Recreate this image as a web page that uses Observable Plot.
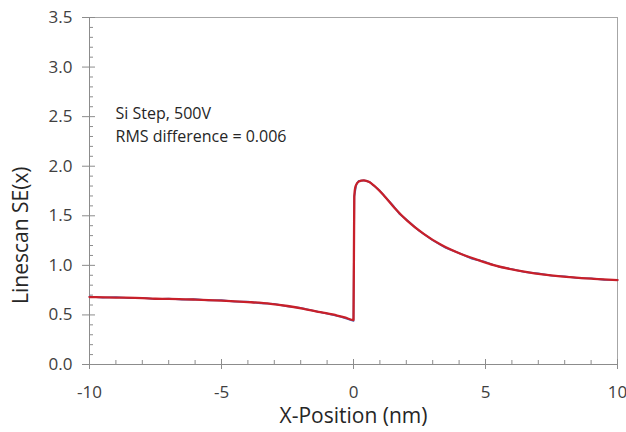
<!DOCTYPE html>
<html>
<head>
<meta charset="utf-8">
<script src="https://cdn.jsdelivr.net/npm/d3@7"></script>
<script src="https://cdn.jsdelivr.net/npm/@observablehq/plot@0.6"></script>
<style>
  html, body { margin: 0; padding: 0; background: #ffffff; }
</style>
</head>
<body>
<div id="chart"></div>
<script>
// ---- data ----
const xMajor = [-10, -5, 0, 5, 10];
const xMinor = [-9, -8, -7, -6, -4, -3, -2, -1, 1, 2, 3, 4, 6, 7, 8, 9];
const yMajor = [0, 0.5, 1.0, 1.5, 2.0, 2.5, 3.0, 3.5];
const yMinor = [0.1, 0.2, 0.3, 0.4, 0.6, 0.7, 0.8, 0.9, 1.1, 1.2, 1.3, 1.4, 1.6, 1.7, 1.8, 1.9,
                2.1, 2.2, 2.3, 2.4, 2.6, 2.7, 2.8, 2.9, 3.1, 3.2, 3.3, 3.4];

// measured linescan (blue, underneath)
const measuredX = [-10, -9.5, -9, -8.5, -8, -7.5, -7, -6.5, -6, -5.5, -5, -4.5, -4, -3.5, -3, -2.5, -2, -1.5, -1, -0.5, 0,
                   0.03, 0.1, 0.2, 0.4, 0.6, 0.8, 1.0, 1.25, 1.5, 1.75, 2.0, 2.5, 3.0, 3.5, 4.0, 4.5, 5.0, 5.5, 6.0, 6.5,
                   7.0, 7.5, 8.0, 8.5, 9.0, 9.5, 10];
const measuredY = [0.684, 0.674, 0.679, 0.669, 0.673, 0.660, 0.665, 0.655, 0.658, 0.647, 0.648, 0.635, 0.633, 0.617, 0.611,
                   0.587, 0.571, 0.540, 0.513, 0.483, 0.440,
                   1.690, 1.810, 1.853, 1.858, 1.843, 1.797, 1.752, 1.676, 1.603, 1.517, 1.463, 1.346, 1.254, 1.176, 1.124,
                   1.066, 1.034, 0.986, 0.963, 0.932, 0.918, 0.897, 0.888, 0.872, 0.869, 0.855, 0.853];

// model fit (red, on top)
const fitX = [-10, -9, -8, -7.5, -7, -6, -5, -4, -3.14, -2.5, -1.88, -1.25, -0.62, -0.3, 0,
              0.03, 0.08, 0.2, 0.39, 0.6, 0.77, 1.15, 1.53, 2.03, 2.66, 3.3, 4.05, 4.81, 5.31, 6.58, 7.84, 9.1, 10];
const fitY = [0.680, 0.675, 0.670, 0.663, 0.662, 0.655, 0.645, 0.630, 0.612, 0.590, 0.562, 0.528, 0.494, 0.472, 0.448,
              1.700, 1.800, 1.845, 1.858, 1.840, 1.806, 1.705, 1.587, 1.452, 1.318, 1.210, 1.117, 1.045, 1.002, 0.931,
              0.888, 0.864, 0.852];

const annotationLines = ["Si Step, 500V", "RMS difference = 0.006"];
const xTitle = "X-Position (nm)";
const yTitle = "Linescan SE(x)";

const measured = measuredX.map((x, i) => ({x, y: measuredY[i]}));
const fit = fitX.map((x, i) => ({x, y: fitY[i]}));

// ---- layout ----
const W = 626, H = 432;
const mL = 89, mR = 9, mT = 17, mB = 68;
const innerW = W - mL - mR, innerH = H - mT - mB;
const axisColor = "#8c8c8c";
const textColor = "#404040";

const chart = Plot.plot({
  width: W,
  height: H,
  marginLeft: mL,
  marginRight: mR,
  marginTop: mT,
  marginBottom: mB,
  style: {fontFamily: "'Open Sans', sans-serif", fontSize: "17px", color: textColor, background: "#ffffff"},
  x: {domain: [-10, 10]},
  y: {domain: [0, 3.5]},
  marks: [
    Plot.frame({stroke: "#a6a6a6", strokeWidth: 1}),
    // inward minor / major ticks
    Plot.tickX(xMinor, {x: d => d, insetTop: innerH - 4, stroke: axisColor}),
    Plot.tickX(xMajor, {x: d => d, insetTop: innerH - 5, stroke: axisColor}),
    Plot.tickY(yMinor, {y: d => d, insetRight: innerW - 4, stroke: axisColor}),
    Plot.tickY(yMajor, {y: d => d, insetRight: innerW - 6, stroke: axisColor}),
    Plot.axisX(xMajor, {tickSize: 5, tickPadding: 16, tickFormat: d => String(d), label: null,
                        stroke: axisColor, fill: textColor, fontSize: 17}),
    Plot.axisY(yMajor, {tickSize: 7, tickPadding: 10, tickFormat: d3.format(".1f"), label: null,
                        stroke: axisColor, fill: textColor, fontSize: 17}),
    Plot.ruleY([0], {stroke: axisColor}),
    Plot.ruleX([-10], {stroke: axisColor}),
    // data
    Plot.line(measured, {x: "x", y: "y", stroke: "#4a6fc0", strokeWidth: 1.8, curve: "linear"}),
    Plot.line(fit, {x: "x", y: "y", stroke: "#c8202a", strokeWidth: 2.3, curve: "monotone-x"}),
    // annotation
    Plot.text([annotationLines.join("\n")], {
      frameAnchor: "top-left", dx: 26, dy: 86, textAnchor: "start", lineAnchor: "top",
      lineHeight: 1.4, fontSize: 16, fill: "#262626"
    }),
    // axis titles
    Plot.text([xTitle], {frameAnchor: "bottom", dy: 58, lineAnchor: "bottom", fontSize: 21, fill: "#262626"}),
    Plot.text([yTitle], {frameAnchor: "left", dx: -68, dy: 113, rotate: -90, fontSize: 21, fill: "#262626"})
  ]
});

document.getElementById("chart").appendChild(chart);
</script>
</body>
</html>
